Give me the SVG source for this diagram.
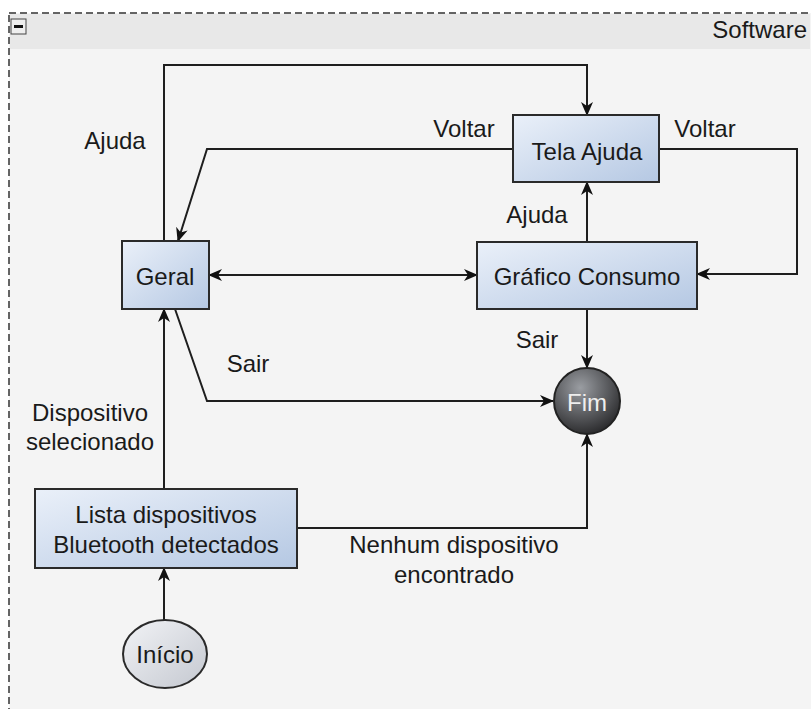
<svg xmlns="http://www.w3.org/2000/svg" width="811" height="709" viewBox="0 0 811 709">
<defs>
<linearGradient id="boxg" x1="0" y1="0" x2="1" y2="1">
<stop offset="0" stop-color="#eaf0f9"/>
<stop offset="1" stop-color="#b5c8e3"/>
</linearGradient>
<radialGradient id="fimg" cx="0.4" cy="0.3" r="0.75">
<stop offset="0" stop-color="#9a9da2"/>
<stop offset="1" stop-color="#262628"/>
</radialGradient>
<linearGradient id="inig" x1="0" y1="0" x2="1" y2="1">
<stop offset="0" stop-color="#f2f3f6"/>
<stop offset="1" stop-color="#c4c8d0"/>
</linearGradient>
<marker id="ah" viewBox="0 0 14 12" refX="13" refY="6" markerWidth="14" markerHeight="12" markerUnits="userSpaceOnUse" orient="auto-start-reverse">
<path d="M0,0 L14,6 L0,12 L4,6 z" fill="#111"/>
</marker>
<style>
text{font-family:"Liberation Sans",Arial,sans-serif;font-size:24px;fill:#1a1a1a}
.box{fill:url(#boxg);stroke:#2a2a2a;stroke-width:2}
.c{text-anchor:middle}
.ln{fill:none;stroke:#1e1e1e;stroke-width:2}
</style>
</defs>
<rect x="0" y="0" width="811" height="709" fill="#ffffff"/>
<g id="container">
<rect x="9" y="13" width="806" height="700" fill="#f4f4f4" stroke="#333" stroke-width="1.5" stroke-dasharray="7,4"/>
<rect x="10" y="14" width="800" height="35" fill="#e8e8e8"/>
<rect x="11" y="19" width="15" height="15" fill="#eeeeee" stroke="#444" stroke-width="1"/>
<rect x="14" y="25" width="9" height="3" fill="#111"/>
<text x="807" y="38" text-anchor="end" font-size="22">Software</text>
</g>
<g id="connectors">
<polyline class="ln" points="164,241 164,65 587,65 587,115" marker-end="url(#ah)"/>
<polyline class="ln" points="513,149 207,149 178,241" marker-end="url(#ah)"/>
<polyline class="ln" points="659,149 797,149 797,274 697,274" marker-end="url(#ah)"/>
<line class="ln" x1="587" y1="242" x2="587" y2="182" marker-end="url(#ah)"/>
<line class="ln" x1="209" y1="275" x2="477" y2="275" marker-start="url(#ah)" marker-end="url(#ah)"/>
<line class="ln" x1="587" y1="309" x2="587" y2="368" marker-end="url(#ah)"/>
<polyline class="ln" points="175,309 207,401 553,401" marker-end="url(#ah)"/>
<line class="ln" x1="164" y1="489" x2="164" y2="309" marker-end="url(#ah)"/>
<polyline class="ln" points="297,528 587,528 587,434" marker-end="url(#ah)"/>
<line class="ln" x1="164" y1="620" x2="164" y2="568" marker-end="url(#ah)"/>
<text x="115" y="149" class="c">Ajuda</text>
<text x="464" y="137" class="c">Voltar</text>
<text x="705" y="137" class="c">Voltar</text>
<text x="537" y="223" class="c">Ajuda</text>
<text x="537" y="348" class="c">Sair</text>
<text x="248" y="372" class="c">Sair</text>
<text x="90" y="421" class="c">Dispositivo</text>
<text x="90" y="450" class="c">selecionado</text>
<text x="454" y="553" class="c">Nenhum dispositivo</text>
<text x="454" y="583" class="c">encontrado</text>
</g>
<g id="geral">
<rect class="box" x="122" y="241" width="87" height="68"/>
<text x="165" y="285" class="c">Geral</text>
</g>
<g id="tela-ajuda">
<rect class="box" x="513" y="115" width="146" height="67"/>
<text x="587" y="160" class="c">Tela Ajuda</text>
</g>
<g id="grafico-consumo">
<rect class="box" x="477" y="242" width="220" height="67"/>
<text x="587" y="285" class="c">Gráfico Consumo</text>
</g>
<g id="fim">
<circle cx="587" cy="401" r="33" fill="url(#fimg)" stroke="#222" stroke-width="2"/>
<text x="587" y="411" class="c" style="fill:#eeeeee">Fim</text>
</g>
<g id="lista">
<rect class="box" x="35" y="489" width="262" height="79"/>
<text x="166" y="523" class="c">Lista dispositivos</text>
<text x="166" y="553" class="c">Bluetooth detectados</text>
</g>
<g id="inicio">
<ellipse cx="165" cy="654" rx="42" ry="34" fill="url(#inig)" stroke="#2a2a2a" stroke-width="2"/>
<text x="165" y="663" class="c">Início</text>
</g>
</svg>
